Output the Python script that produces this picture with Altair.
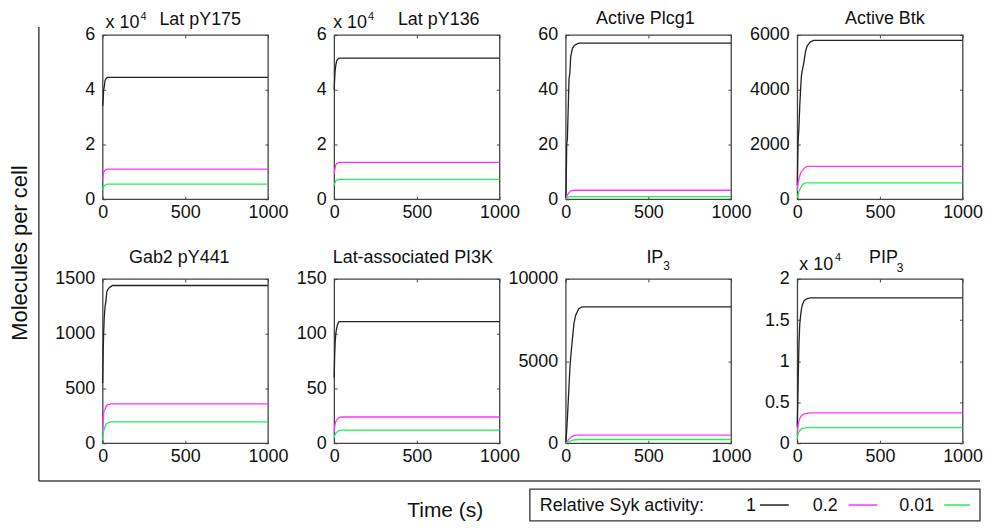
import altair as alt
import pandas as pd

FONT = "Liberation Sans"
TEXT = "#111111"
FRAME = "#444444"

# ---------------- data ----------------
T = [0, 3, 6, 10, 15, 20, 25, 30, 40, 50, 60, 80, 100, 1000]
ACTIVITY = ["1", "0.2", "0.01"]
COLORS = ["#222222", "#ff33ff", "#22ee55"]
X_TICKS = [0, 500, 1000]

TITLES = ["Lat pY175", "Lat pY136", "Active Plcg1", "Active Btk",
          "Gab2 pY441", "Lat-associated PI3K", "IP", "PIP"]
SUBSCRIPTS = ["", "", "", "", "", "", "3", "3"]
Y_MAX = [60000, 60000, 60, 6000, 1500, 150, 10000, 20000]
Y_TICKS = [
    [0, 20000, 40000, 60000],
    [0, 20000, 40000, 60000],
    [0, 20, 40, 60],
    [0, 2000, 4000, 6000],
    [0, 500, 1000, 1500],
    [0, 50, 100, 150],
    [0, 5000, 10000],
    [0, 5000, 10000, 15000, 20000],
]
SCALED_1E4 = [True, True, False, False, False, False, False, True]

lat175_1 = [34000, 36000, 40000, 41000, 43500, 44000, 44300, 44500, 44500, 44500, 44500, 44500, 44500, 44500]
lat175_02 = [7500, 8500, 9500, 10200, 10600, 10800, 10900, 11000, 11000, 11000, 11000, 11000, 11000, 11000]
lat175_001 = [3500, 4200, 4700, 5000, 5200, 5300, 5400, 5500, 5500, 5500, 5500, 5500, 5500, 5500]

lat136_1 = [40000, 44000, 47000, 49000, 50500, 51000, 51300, 51500, 51500, 51500, 51500, 51500, 51500, 51500]
lat136_02 = [9000, 10500, 11500, 12500, 13000, 13200, 13400, 13500, 13500, 13500, 13500, 13500, 13500, 13500]
lat136_001 = [5000, 5700, 6200, 6700, 7000, 7100, 7200, 7300, 7300, 7300, 7300, 7300, 7300, 7300]

plcg1_1 = [0, 6, 20, 22, 33, 44, 46, 52, 55, 56, 56.5, 57, 57, 57]
plcg1_02 = [0, 0.5, 1.0, 1.5, 2.0, 2.4, 2.7, 3.0, 3.2, 3.3, 3.3, 3.3, 3.3, 3.3]
plcg1_001 = [0, 0.2, 0.4, 0.6, 0.75, 0.85, 0.9, 0.95, 1.0, 1.0, 1.0, 1.0, 1.0, 1.0]

btk_1 = [500, 1500, 2200, 2600, 3400, 4000, 4500, 4700, 5000, 5400, 5600, 5750, 5800, 5800]
btk_02 = [300, 500, 650, 750, 850, 950, 1000, 1050, 1120, 1170, 1200, 1200, 1200, 1200]
btk_001 = [50, 120, 200, 280, 350, 420, 470, 520, 570, 600, 600, 600, 600, 600]

gab2_1 = [550, 800, 1000, 1150, 1250, 1300, 1380, 1400, 1420, 1430, 1440, 1440, 1440, 1440]
gab2_02 = [100, 200, 270, 300, 310, 330, 345, 350, 355, 360, 360, 360, 360, 360]
gab2_001 = [30, 80, 110, 130, 150, 170, 180, 185, 190, 195, 195, 195, 195, 195]

pi3k_1 = [60, 80, 92, 100, 105, 108, 110, 111, 111, 111, 111, 111, 111, 111]
pi3k_02 = [10, 15, 18, 20, 21, 22, 23, 23.5, 24, 24, 24, 24, 24, 24]
pi3k_001 = [5, 7, 8, 9, 10, 10.5, 11, 11.5, 12, 12, 12, 12, 12, 12]

ip3_1 = [0, 300, 800, 1500, 2500, 3500, 4500, 5200, 6300, 7300, 7800, 8200, 8300, 8300]
ip3_02 = [0, 40, 80, 130, 190, 250, 300, 350, 420, 470, 490, 500, 500, 500]
ip3_001 = [0, 15, 30, 50, 75, 100, 120, 140, 170, 200, 215, 230, 230, 230]

pip3_1 = [2000, 5000, 8000, 12000, 14500, 15500, 16300, 16800, 17300, 17500, 17600, 17700, 17700, 17700]
pip3_02 = [1000, 1800, 2300, 2700, 3000, 3200, 3350, 3450, 3550, 3600, 3650, 3700, 3700, 3700]
pip3_001 = [500, 900, 1200, 1400, 1550, 1650, 1750, 1800, 1850, 1880, 1900, 1900, 1900, 1900]

SERIES = [
    (lat175_1, lat175_02, lat175_001),
    (lat136_1, lat136_02, lat136_001),
    (plcg1_1, plcg1_02, plcg1_001),
    (btk_1, btk_02, btk_001),
    (gab2_1, gab2_02, gab2_001),
    (pi3k_1, pi3k_02, pi3k_001),
    (ip3_1, ip3_02, ip3_001),
    (pip3_1, pip3_02, pip3_001),
]

# ---------------- layout (styles, not data) ----------------
W, H = 166, 165
TITLE_POS = [(98, -10, "center"), (105, -10, "center"), (80, -11, "center"), (88, -11, "center"),
             (77, -16, "center"), (79, -16, "center"), (81, -16, "left"), (72, -16, "left")]
SUB_POS = {6: (98, -9), 7: (100, -7)}
MULT_POS = {0: (3, -7, 38, -15), 1: (-1, -7, 34, -15), 7: (2, -9, 38, -18)}


def one_row():
    return pd.DataFrame({"k": [0]})


def label(text, x, y, size=18, align="left", angle=0, baseline="alphabetic"):
    return alt.Chart(pd.DataFrame({"s": [text]})).mark_text(
        font=FONT, fontSize=size, align=align, baseline=baseline, color=TEXT, angle=angle
    ).encode(x=alt.value(x), y=alt.value(y), text="s:N")


def rule(x1, x2, y1, y2, color=FRAME, width=1.5):
    return alt.Chart(one_row()).mark_rule(color=color, strokeWidth=width).encode(
        x=alt.value(x1), x2=alt.value(x2), y=alt.value(y1), y2=alt.value(y2)
    )


def panel(i):
    rows = []
    for act, vals in zip(ACTIVITY, SERIES[i]):
        for t, v in zip(T, vals):
            rows.append({"t": t, "v": v, "activity": act})
    df = pd.DataFrame(rows)

    xscale = alt.Scale(domain=[0, 1000], nice=False)
    yscale = alt.Scale(domain=[0, Y_MAX[i]], nice=False)

    yaxis_kw = dict(orient="left", offset=-3, values=Y_TICKS[i], labelPadding=8, title=None)
    if SCALED_1E4[i]:
        yaxis_kw["labelExpr"] = "format(datum.value / 10000, '~g')"
    else:
        yaxis_kw["format"] = "d"

    lines = alt.Chart(df).mark_line(strokeWidth=1.3).encode(
        x=alt.X("t:Q", scale=xscale,
                axis=alt.Axis(orient="bottom", offset=-3, values=X_TICKS, labelPadding=4,
                              labelFlush=False, format="d", title=None)),
        y=alt.Y("v:Q", scale=yscale, axis=alt.Axis(**yaxis_kw)),
        color=alt.Color("activity:N", scale=alt.Scale(domain=ACTIVITY, range=COLORS), legend=None),
        detail="activity:N",
    )
    mirror = alt.Chart(df).mark_line(opacity=0).encode(
        x=alt.X("t:Q", scale=xscale,
                axis=alt.Axis(orient="top", offset=-3, values=X_TICKS, labels=False, title=None)),
        y=alt.Y("v:Q", scale=yscale,
                axis=alt.Axis(orient="right", offset=-3, values=Y_TICKS[i], labels=False, title=None)),
        detail="activity:N",
    )
    layers = [lines, mirror]

    tx, ty, talign = TITLE_POS[i]
    layers.append(label(TITLES[i], tx, ty, size=18, align=talign))
    if SUBSCRIPTS[i]:
        sx, sy = SUB_POS[i]
        layers.append(label(SUBSCRIPTS[i], sx, sy, size=12))
    if i in MULT_POS:
        mx, my, px, py = MULT_POS[i]
        layers.append(label("x 10", mx, my, size=18))
        layers.append(label("4", px, py, size=11))

    if i == 0:
        # bounds anchor, frame lines, shared axis titles and the legend
        layers.append(alt.Chart(one_row()).mark_rect(opacity=0).encode(
            x=alt.value(-94), x2=alt.value(-92), y=alt.value(-25), y2=alt.value(-23)))
        layers.append(rule(-64, -64, -8, 448))
        layers.append(rule(-64, 881, 448, 448))
        layers.append(label("Molecules per cell", -83, 219, size=22, align="center",
                            angle=270, baseline="middle"))
        layers.append(label("Time (s)", 344, 484, size=21, align="center"))
        layers.append(alt.Chart(one_row()).mark_rect(fillOpacity=0, stroke="#333333", strokeWidth=1.3).encode(
            x=alt.value(429), x2=alt.value(881), y=alt.value(456), y2=alt.value(488)))
        layers.append(label("Relative Syk activity:", 439, 478, size=18))
        entry_x = [(646, 660, 689), (713, 749, 778), (800, 845, 871)]
        for (lx, a, b), act, col in zip(entry_x, ACTIVITY, COLORS):
            layers.append(label(act, lx, 478, size=18))
            layers.append(rule(a, b, 472, 472, color=col, width=1.5))

    return alt.layer(*layers).resolve_axis(x="independent", y="independent").properties(width=W, height=H)


chart = alt.concat(
    *[panel(i) for i in range(8)],
    columns=4,
    spacing={"row": 80, "column": 66.5},
    bounds="flush",
).properties(
    padding=0, background="white"
).configure_view(
    stroke=FRAME, strokeWidth=1.3
).configure_axis(
    labelFont=FONT, labelFontSize=18, labelColor=TEXT, tickColor=FRAME,
    tickSize=3, ticks=True, domain=False, grid=False, labelOverlap=False
)

chart.save("out.html", embed_options={"renderer": "svg", "actions": False})
